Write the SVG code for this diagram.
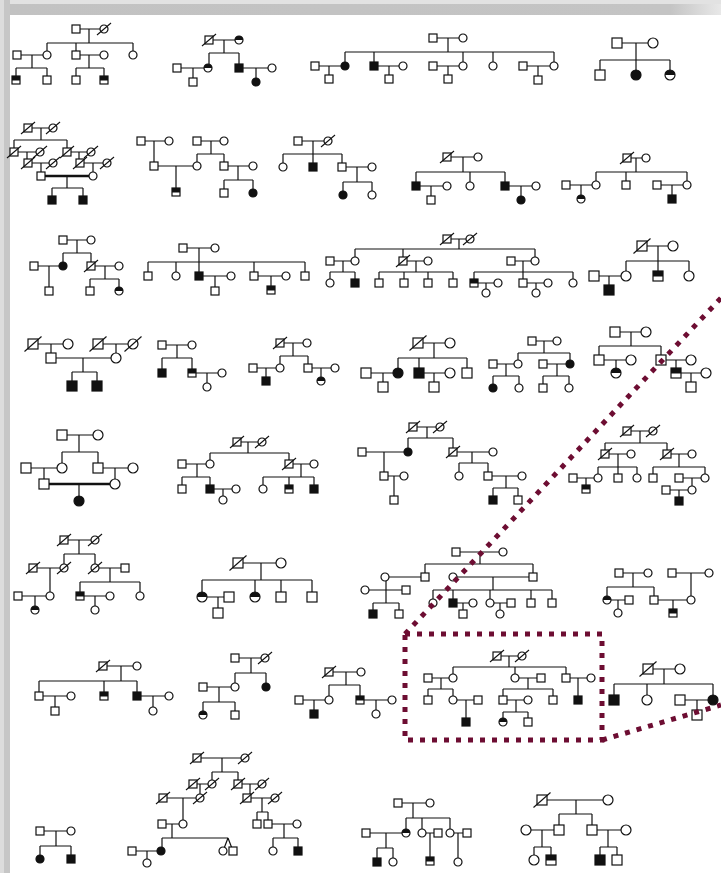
<svg xmlns="http://www.w3.org/2000/svg" width="721" height="873" viewBox="0 0 721 873">
<style>
.l{fill:none;stroke:#111;stroke-width:1.2}
.t{fill:none;stroke:#111;stroke-width:2.6}
.o{fill:#fff;stroke:#111;stroke-width:1.2}
.k{fill:#111;stroke:#111;stroke-width:1.2}
.dl{stroke:#111;stroke-width:1.1}
.dot{fill:none;stroke:#6d0d32;stroke-width:5;stroke-dasharray:5 7}
</style>
<defs>
<linearGradient id="tb" x1="0" x2="1" y1="0" y2="0"><stop offset="0" stop-color="#c2c2c2"/><stop offset="0.93" stop-color="#c4c4c4"/><stop offset="1" stop-color="#e8e8e8"/></linearGradient>
<g id="s"><rect class="o" x="-4" y="-4" width="8" height="8"/></g>
<g id="sf"><rect class="k" x="-4" y="-4" width="8" height="8"/></g>
<g id="sh"><rect class="o" x="-4" y="-4" width="8" height="8"/><rect x="-4" y="-4" width="8" height="4.5" fill="#111"/></g>
<g id="c"><circle class="o" r="4"/></g>
<g id="cf"><circle class="k" r="4"/></g>
<g id="ch"><circle class="o" r="4"/><path d="M-4,0A4,4 0 0 1 4,0Z" fill="#111"/></g>
<g id="sd"><use href="#s"/><line class="dl" x1="-7" y1="6" x2="7" y2="-6"/></g>
<g id="cd"><use href="#c"/><line class="dl" x1="-7" y1="6" x2="7" y2="-6"/></g>
<g id="S"><rect class="o" x="-5" y="-5" width="10" height="10"/></g>
<g id="SF"><rect class="k" x="-5" y="-5" width="10" height="10"/></g>
<g id="SH"><rect class="o" x="-5" y="-5" width="10" height="10"/><rect x="-5" y="-5" width="10" height="5.5" fill="#111"/></g>
<g id="C"><circle class="o" r="5"/></g>
<g id="CF"><circle class="k" r="5"/></g>
<g id="CH"><circle class="o" r="5"/><path d="M-5,0A5,5 0 0 1 5,0Z" fill="#111"/></g>
<g id="SD"><use href="#S"/><line class="dl" x1="-8.5" y1="7.5" x2="8.5" y2="-7.5"/></g>
<g id="CD"><use href="#C"/><line class="dl" x1="-8.5" y1="7.5" x2="8.5" y2="-7.5"/></g>
</defs>
<rect width="721" height="873" fill="#fff"/>
<rect x="0" y="0" width="721" height="15" fill="url(#tb)"/>
<rect x="0" y="0" width="721" height="4" fill="#e2e2e2"/>
<rect x="0" y="0" width="10" height="873" fill="#c6c6c6"/>
<rect x="0" y="0" width="4" height="873" fill="#dcdcdc"/>

<g id="connectors">
<path class="l" d="M76,29H104M89,29V43M47,43H133M47,43V55M76,43V55M133,43V55M17,55H47M32,55V68M16,68H47M16,68V80M47,68V80M76,55H104M89,55V68M76,68H104M76,68V80M104,68V80"/>
<path class="l" d="M209,40H239M224,40V53M209,53H239M209,53V68M239,53V68M177,68H208M193,68V82M239,68H272M256,68V82"/>
<path class="l" d="M433,38H463M448,38V52M345,52H554M345,52V66M374,52V66M463,52V66M493,52V66M554,52V66M315,66H345M329,66V79M374,66H403M389,66V79M433,66H463M448,66V79M523,66H554M538,66V80"/>
<path class="l" d="M617,43H653M636,43V60M600,60H670M600,60V75M636,60V75M670,60V75"/>
<path class="l" d="M28,128H53M41,128V140M14,140H67M14,140V152M67,140V152M14,152H40M27,152V163M28,163H53M41,163V176M67,152H91M79,152V163M80,163H107M93,163V176M67,176V188M52,188H83M52,188V200M83,188V200"/>
<path class="t" d="M41,176H93"/>
<path class="l" d="M141,141H169M154,141V166M197,141H224M211,141V154M197,154H224M197,154V166M224,154V166M154,166H197M176,166V192M224,166H253M238,166V180M224,180H253M224,180V193M253,180V193"/>
<path class="l" d="M298,141H328M313,141V154M283,154H342M283,154V167M313,154V167M342,154V167M342,167H372M357,167V182M343,182H372M343,182V195M372,182V195"/>
<path class="l" d="M447,157H478M463,157V172M416,172H505M416,172V186M470,172V186M505,172V186M416,186H447M431,186V200M505,186H536M521,186V200"/>
<path class="l" d="M627,158H646M636,158V172M596,172H687M596,172V185M626,172V185M687,172V185M566,185H596M581,185V199M657,185H687M672,185V199"/>
<path class="l" d="M63,240H91M77,240V253M63,253H91M63,253V266M91,253V266M34,266H63M49,266V291M91,266H119M105,266V279M90,279H119M90,279V291M119,279V291"/>
<path class="l" d="M183,248H215M199,248V262M148,262H305M148,262V276M176,262V276M199,262V276M254,262V276M305,262V276M199,276H231M215,276V291M254,276H286M271,276V290"/>
<path class="l" d="M447,239H470M459,239V249M355,249H535M355,249V261M403,249V261M535,249V261M330,261H355M343,261V272M330,272H355M330,272V283M355,272V283M403,261H428M416,261V272M379,272H453M379,272V283M404,272V283M428,272V283M453,272V283M511,261H535M523,261V272M474,272H573M474,272V283M523,272V283M573,272V283M474,283H498M486,283V293M523,283H548M536,283V293"/>
<path class="l" d="M642,246H673M658,246V261M626,261H689M626,261V276M658,261V276M689,261V276M594,276H626M609,276V290"/>
<path class="l" d="M33,344H68M51,344V358M98,344H133M116,344V358M51,358H116M83,358V372M72,372H97M72,372V386M97,372V386"/>
<path class="l" d="M162,345H192M177,345V358M162,358H192M162,358V373M192,358V373M192,373H222M207,373V387"/>
<path class="l" d="M280,343H307M293,343V356M280,356H308M280,356V368M308,356V368M253,368H280M266,368V381M308,368H335M321,368V381"/>
<path class="l" d="M418,343H450M434,343V358M398,358H467M398,358V373M419,358V373M467,358V373M366,373H398M383,373V387M419,373H450M434,373V387"/>
<path class="l" d="M532,341H557M544,341V353M518,353H570M518,353V364M570,353V364M493,364H518M506,364V376M493,376H519M493,376V388M519,376V388M543,364H570M557,364V376M543,376H569M543,376V388M569,376V388"/>
<path class="l" d="M615,332H646M631,332V346M599,346H661M599,346V360M661,346V360M599,360H631M616,360V373M661,360H691M676,360V373M676,373H706M691,373V387"/>
<path class="l" d="M62,435H98M79,435V452M62,452H98M62,452V468M98,452V468M26,468H62M44,468V484M98,468H133M115,468V484M79,484V501"/>
<path class="t" d="M44,484H115"/>
<path class="l" d="M237,442H262M248,442V453M210,453H289M210,453V464M289,453V464M182,464H210M197,464V477M182,477H210M182,477V489M210,477V489M210,489H236M223,489V500M289,464H314M301,464V477M263,477H314M263,477V489M289,477V489M314,477V489"/>
<path class="l" d="M413,427H440M427,427V438M408,438H453M408,438V452M453,438V452M362,452H408M384,452V476M384,476H404M394,476V500M453,452H493M472,452V463M459,463H488M459,463V476M488,463V476M488,476H522M506,476V488M493,488H518M493,488V500M518,488V500"/>
<path class="l" d="M627,431H653M640,431V443M605,443H667M605,443V454M667,443V454M605,454H631M618,454V467M598,467H637M598,467V478M618,467V478M637,467V478M573,478H598M586,478V489M667,454H692M679,454V467M653,467H705M653,467V478M705,467V478M679,478H705M692,478V490M666,490H692M679,490V501"/>
<path class="l" d="M64,540H95M79,540V554M64,554H95M64,554V568M95,554V568M33,568H64M50,568V596M95,568H125M110,568V582M80,582H140M80,582V596M140,582V596M80,596H110M95,596V610M18,596H50M35,596V610"/>
<path class="l" d="M238,563H281M261,563V580M202,580H312M202,580V597M255,580V597M281,580V597M312,580V597M202,597H229M218,597V613"/>
<path class="l" d="M456,552H503M480,552V564M425,564H533M425,564V577M533,564V577M385,577H425M386,577V603M365,590H406M373,603H399M373,603V614M399,603V614M453,577H533M493,577V590M433,590H552M433,590V603M453,590V603M490,590V603M531,590V603M552,590V603M453,603H473M463,603V614M490,603H511M500,603V614"/>
<path class="l" d="M619,573H648M633,573V587M607,587H654M607,587V600M654,587V600M607,600H629M618,600V613M654,600H691M673,600V613M672,573H709M691,573V600"/>
<path class="l" d="M103,666H137M121,666V681M39,681H137M39,681V696M104,681V696M137,681V696M39,696H71M55,696V711M137,696H169M153,696V711"/>
<path class="l" d="M235,658H265M251,658V673M235,673H266M235,673V687M266,673V687M203,687H235M219,687V702M203,702H235M203,702V715M235,702V715"/>
<path class="l" d="M329,672H361M346,672V685M329,685H360M329,685V700M360,685V700M299,700H329M314,700V714M360,700H392M376,700V714"/>
<path class="l" d="M497,656H522M509,656V667M453,667H566M453,667V678M515,667V678M566,667V678M428,678H453M441,678V689M428,689H453M428,689V700M453,689V700M453,700H478M466,700V722M515,678H541M528,678V689M503,689H553M503,689V700M553,689V700M503,700H528M516,700V712M503,712H528M503,712V722M528,712V722M566,678H591M578,678V700"/>
<path class="l" d="M648,669H680M664,669V684M614,684H713M614,684V700M647,684V700M713,684V700M680,700H713M697,700V715"/>
<path class="l" d="M40,831H71M56,831V846M40,846H71M40,846V859M71,846V859"/>
<path class="l" d="M197,758H245M222,758V772M212,772H238M212,772V784M238,772V784M193,784H212M200,784V798M163,798H200M183,798V824M162,824H183M172,824V838M162,838H228M162,838V851M228,838L223,851M228,838L233,851M132,851H161M147,851V863M238,784H262M250,784V798M247,798H275M262,798V812M257,812H268M257,812V824M268,812V824M268,824H297M284,824V838M273,838H298M273,838V851M298,838V851"/>
<path class="l" d="M398,803H430M413,803V818M406,818H450M406,818V833M422,818V833M450,818V833M366,833H406M386,833V848M377,848H393M377,848V862M393,848V862M422,833H438M430,833V861M450,833H467M458,833V862"/>
<path class="l" d="M542,800H608M576,800V814M559,814H592M559,814V830M592,814V830M526,830H559M542,830V847M534,847H551M534,847V860M551,847V860M592,830H626M608,830V847M600,847H617M600,847V860M617,847V860"/>
</g>

<g id="ped-A"><use href="#s" x="76" y="29"/><use href="#cd" x="104" y="29"/><use href="#c" x="47" y="55"/><use href="#s" x="17" y="55"/><use href="#s" x="76" y="55"/><use href="#c" x="104" y="55"/><use href="#c" x="133" y="55"/><use href="#sh" x="16" y="80"/><use href="#s" x="47" y="80"/><use href="#s" x="76" y="80"/><use href="#sh" x="104" y="80"/></g>
<g id="ped-B"><use href="#sd" x="209" y="40"/><use href="#ch" x="239" y="40"/><use href="#ch" x="208" y="68"/><use href="#sf" x="239" y="68"/><use href="#s" x="177" y="68"/><use href="#s" x="193" y="82"/><use href="#c" x="272" y="68"/><use href="#cf" x="256" y="82"/></g>
<g id="ped-C"><use href="#s" x="433" y="38"/><use href="#c" x="463" y="38"/><use href="#cf" x="345" y="66"/><use href="#s" x="315" y="66"/><use href="#s" x="329" y="79"/><use href="#sf" x="374" y="66"/><use href="#c" x="403" y="66"/><use href="#s" x="389" y="79"/><use href="#s" x="433" y="66"/><use href="#c" x="463" y="66"/><use href="#s" x="448" y="79"/><use href="#c" x="493" y="66"/><use href="#s" x="523" y="66"/><use href="#c" x="554" y="66"/><use href="#s" x="538" y="80"/></g>
<g id="ped-D"><use href="#S" x="617" y="43"/><use href="#C" x="653" y="43"/><use href="#S" x="600" y="75"/><use href="#CF" x="636" y="75"/><use href="#CH" x="670" y="75"/></g>
<g id="ped-E"><use href="#sd" x="28" y="128"/><use href="#cd" x="53" y="128"/><use href="#sd" x="14" y="152"/><use href="#cd" x="40" y="152"/><use href="#sd" x="67" y="152"/><use href="#cd" x="91" y="152"/><use href="#sd" x="28" y="163"/><use href="#cd" x="53" y="163"/><use href="#sd" x="80" y="163"/><use href="#cd" x="107" y="163"/><use href="#s" x="41" y="176"/><use href="#c" x="93" y="176"/><use href="#sf" x="52" y="200"/><use href="#sf" x="83" y="200"/></g>
<g id="ped-F"><use href="#s" x="141" y="141"/><use href="#c" x="169" y="141"/><use href="#s" x="197" y="141"/><use href="#c" x="224" y="141"/><use href="#s" x="154" y="166"/><use href="#c" x="197" y="166"/><use href="#s" x="224" y="166"/><use href="#c" x="253" y="166"/><use href="#sh" x="176" y="192"/><use href="#s" x="224" y="193"/><use href="#cf" x="253" y="193"/></g>
<g id="ped-G"><use href="#s" x="298" y="141"/><use href="#cd" x="328" y="141"/><use href="#c" x="283" y="167"/><use href="#sf" x="313" y="167"/><use href="#s" x="342" y="167"/><use href="#c" x="372" y="167"/><use href="#cf" x="343" y="195"/><use href="#c" x="372" y="195"/></g>
<g id="ped-H"><use href="#sd" x="447" y="157"/><use href="#c" x="478" y="157"/><use href="#sf" x="416" y="186"/><use href="#c" x="447" y="186"/><use href="#s" x="431" y="200"/><use href="#c" x="470" y="186"/><use href="#sf" x="505" y="186"/><use href="#c" x="536" y="186"/><use href="#cf" x="521" y="200"/></g>
<g id="ped-I"><use href="#sd" x="627" y="158"/><use href="#c" x="646" y="158"/><use href="#c" x="596" y="185"/><use href="#s" x="566" y="185"/><use href="#ch" x="581" y="199"/><use href="#s" x="626" y="185"/><use href="#c" x="687" y="185"/><use href="#s" x="657" y="185"/><use href="#sf" x="672" y="199"/></g>
<g id="ped-J"><use href="#s" x="63" y="240"/><use href="#c" x="91" y="240"/><use href="#cf" x="63" y="266"/><use href="#s" x="34" y="266"/><use href="#sd" x="91" y="266"/><use href="#c" x="119" y="266"/><use href="#s" x="49" y="291"/><use href="#s" x="90" y="291"/><use href="#ch" x="119" y="291"/></g>
<g id="ped-K"><use href="#s" x="183" y="248"/><use href="#c" x="215" y="248"/><use href="#s" x="148" y="276"/><use href="#c" x="176" y="276"/><use href="#sf" x="199" y="276"/><use href="#c" x="231" y="276"/><use href="#s" x="215" y="291"/><use href="#s" x="254" y="276"/><use href="#c" x="286" y="276"/><use href="#sh" x="271" y="290"/><use href="#s" x="305" y="276"/></g>
<g id="ped-L"><use href="#sd" x="447" y="239"/><use href="#cd" x="470" y="239"/><use href="#c" x="355" y="261"/><use href="#s" x="330" y="261"/><use href="#c" x="330" y="283"/><use href="#sf" x="355" y="283"/><use href="#sd" x="403" y="261"/><use href="#c" x="428" y="261"/><use href="#s" x="379" y="283"/><use href="#s" x="404" y="283"/><use href="#s" x="428" y="283"/><use href="#s" x="453" y="283"/><use href="#s" x="511" y="261"/><use href="#c" x="535" y="261"/><use href="#sh" x="474" y="283"/><use href="#c" x="498" y="283"/><use href="#c" x="486" y="293"/><use href="#s" x="523" y="283"/><use href="#c" x="548" y="283"/><use href="#c" x="536" y="293"/><use href="#c" x="573" y="283"/></g>
<g id="ped-M"><use href="#SD" x="642" y="246"/><use href="#C" x="673" y="246"/><use href="#C" x="626" y="276"/><use href="#S" x="594" y="276"/><use href="#SF" x="609" y="290"/><use href="#SH" x="658" y="276"/><use href="#C" x="689" y="276"/></g>
<g id="ped-N"><use href="#SD" x="33" y="344"/><use href="#C" x="68" y="344"/><use href="#SD" x="98" y="344"/><use href="#CD" x="133" y="344"/><use href="#S" x="51" y="358"/><use href="#C" x="116" y="358"/><use href="#SF" x="72" y="386"/><use href="#SF" x="97" y="386"/></g>
<g id="ped-O"><use href="#s" x="162" y="345"/><use href="#c" x="192" y="345"/><use href="#sf" x="162" y="373"/><use href="#sh" x="192" y="373"/><use href="#c" x="222" y="373"/><use href="#c" x="207" y="387"/></g>
<g id="ped-P"><use href="#sd" x="280" y="343"/><use href="#c" x="307" y="343"/><use href="#c" x="280" y="368"/><use href="#s" x="253" y="368"/><use href="#sf" x="266" y="381"/><use href="#s" x="308" y="368"/><use href="#c" x="335" y="368"/><use href="#ch" x="321" y="381"/></g>
<g id="ped-Q"><use href="#SD" x="418" y="343"/><use href="#C" x="450" y="343"/><use href="#CF" x="398" y="373"/><use href="#S" x="366" y="373"/><use href="#S" x="383" y="387"/><use href="#SF" x="419" y="373"/><use href="#C" x="450" y="373"/><use href="#S" x="434" y="387"/><use href="#S" x="467" y="373"/></g>
<g id="ped-R"><use href="#s" x="532" y="341"/><use href="#c" x="557" y="341"/><use href="#c" x="518" y="364"/><use href="#s" x="493" y="364"/><use href="#cf" x="493" y="388"/><use href="#c" x="519" y="388"/><use href="#cf" x="570" y="364"/><use href="#s" x="543" y="364"/><use href="#s" x="543" y="388"/><use href="#c" x="569" y="388"/></g>
<g id="ped-S"><use href="#S" x="615" y="332"/><use href="#C" x="646" y="332"/><use href="#S" x="599" y="360"/><use href="#C" x="631" y="360"/><use href="#CH" x="616" y="373"/><use href="#S" x="661" y="360"/><use href="#C" x="691" y="360"/><use href="#SH" x="676" y="373"/><use href="#C" x="706" y="373"/><use href="#S" x="691" y="387"/></g>
<g id="ped-T"><use href="#S" x="62" y="435"/><use href="#C" x="98" y="435"/><use href="#C" x="62" y="468"/><use href="#S" x="26" y="468"/><use href="#S" x="98" y="468"/><use href="#C" x="133" y="468"/><use href="#S" x="44" y="484"/><use href="#C" x="115" y="484"/><use href="#CF" x="79" y="501"/></g>
<g id="ped-U"><use href="#sd" x="237" y="442"/><use href="#cd" x="262" y="442"/><use href="#c" x="210" y="464"/><use href="#s" x="182" y="464"/><use href="#s" x="182" y="489"/><use href="#sf" x="210" y="489"/><use href="#c" x="236" y="489"/><use href="#c" x="223" y="500"/><use href="#sd" x="289" y="464"/><use href="#c" x="314" y="464"/><use href="#c" x="263" y="489"/><use href="#sh" x="289" y="489"/><use href="#sf" x="314" y="489"/></g>
<g id="ped-V"><use href="#sd" x="413" y="427"/><use href="#cd" x="440" y="427"/><use href="#cf" x="408" y="452"/><use href="#s" x="362" y="452"/><use href="#s" x="384" y="476"/><use href="#c" x="404" y="476"/><use href="#s" x="394" y="500"/><use href="#sd" x="453" y="452"/><use href="#c" x="493" y="452"/><use href="#c" x="459" y="476"/><use href="#s" x="488" y="476"/><use href="#c" x="522" y="476"/><use href="#sf" x="493" y="500"/><use href="#s" x="518" y="500"/></g>
<g id="ped-W"><use href="#sd" x="627" y="431"/><use href="#cd" x="653" y="431"/><use href="#sd" x="605" y="454"/><use href="#c" x="631" y="454"/><use href="#c" x="598" y="478"/><use href="#s" x="573" y="478"/><use href="#sh" x="586" y="489"/><use href="#s" x="618" y="478"/><use href="#c" x="637" y="478"/><use href="#sd" x="667" y="454"/><use href="#c" x="692" y="454"/><use href="#s" x="653" y="478"/><use href="#s" x="679" y="478"/><use href="#c" x="705" y="478"/><use href="#c" x="692" y="490"/><use href="#s" x="666" y="490"/><use href="#sf" x="679" y="501"/></g>
<g id="ped-X"><use href="#sd" x="64" y="540"/><use href="#cd" x="95" y="540"/><use href="#cd" x="64" y="568"/><use href="#sd" x="33" y="568"/><use href="#cd" x="95" y="568"/><use href="#s" x="125" y="568"/><use href="#sh" x="80" y="596"/><use href="#c" x="110" y="596"/><use href="#c" x="95" y="610"/><use href="#c" x="140" y="596"/><use href="#c" x="50" y="596"/><use href="#s" x="18" y="596"/><use href="#ch" x="35" y="610"/></g>
<g id="ped-Y"><use href="#SD" x="238" y="563"/><use href="#C" x="281" y="563"/><use href="#CH" x="202" y="597"/><use href="#S" x="229" y="597"/><use href="#S" x="218" y="613"/><use href="#CH" x="255" y="597"/><use href="#S" x="281" y="597"/><use href="#S" x="312" y="597"/></g>
<g id="ped-Z"><use href="#s" x="456" y="552"/><use href="#c" x="503" y="552"/><use href="#s" x="425" y="577"/><use href="#c" x="385" y="577"/><use href="#c" x="365" y="590"/><use href="#s" x="406" y="590"/><use href="#sf" x="373" y="614"/><use href="#s" x="399" y="614"/><use href="#c" x="453" y="577"/><use href="#s" x="533" y="577"/><use href="#c" x="433" y="603"/><use href="#sf" x="453" y="603"/><use href="#c" x="473" y="603"/><use href="#s" x="463" y="614"/><use href="#c" x="490" y="603"/><use href="#s" x="511" y="603"/><use href="#c" x="500" y="614"/><use href="#s" x="531" y="603"/><use href="#s" x="552" y="603"/></g>
<g id="ped-AA"><use href="#s" x="619" y="573"/><use href="#c" x="648" y="573"/><use href="#ch" x="607" y="600"/><use href="#s" x="629" y="600"/><use href="#c" x="618" y="613"/><use href="#s" x="654" y="600"/><use href="#c" x="691" y="600"/><use href="#sh" x="673" y="613"/><use href="#s" x="672" y="573"/><use href="#c" x="709" y="573"/></g>
<g id="ped-AB"><use href="#sd" x="103" y="666"/><use href="#c" x="137" y="666"/><use href="#s" x="39" y="696"/><use href="#c" x="71" y="696"/><use href="#s" x="55" y="711"/><use href="#sh" x="104" y="696"/><use href="#sf" x="137" y="696"/><use href="#c" x="169" y="696"/><use href="#c" x="153" y="711"/></g>
<g id="ped-AC"><use href="#s" x="235" y="658"/><use href="#cd" x="265" y="658"/><use href="#c" x="235" y="687"/><use href="#s" x="203" y="687"/><use href="#cf" x="266" y="687"/><use href="#ch" x="203" y="715"/><use href="#s" x="235" y="715"/></g>
<g id="ped-AD"><use href="#sd" x="329" y="672"/><use href="#c" x="361" y="672"/><use href="#c" x="329" y="700"/><use href="#s" x="299" y="700"/><use href="#sf" x="314" y="714"/><use href="#sh" x="360" y="700"/><use href="#c" x="392" y="700"/><use href="#c" x="376" y="714"/></g>
<g id="ped-AE"><use href="#sd" x="497" y="656"/><use href="#cd" x="522" y="656"/><use href="#c" x="453" y="678"/><use href="#s" x="428" y="678"/><use href="#s" x="428" y="700"/><use href="#c" x="453" y="700"/><use href="#s" x="478" y="700"/><use href="#sf" x="466" y="722"/><use href="#c" x="515" y="678"/><use href="#s" x="541" y="678"/><use href="#s" x="503" y="700"/><use href="#c" x="528" y="700"/><use href="#s" x="553" y="700"/><use href="#ch" x="503" y="722"/><use href="#s" x="528" y="722"/><use href="#s" x="566" y="678"/><use href="#c" x="591" y="678"/><use href="#sf" x="578" y="700"/></g>
<g id="ped-AF"><use href="#SD" x="648" y="669"/><use href="#C" x="680" y="669"/><use href="#SF" x="614" y="700"/><use href="#C" x="647" y="700"/><use href="#S" x="680" y="700"/><use href="#CF" x="713" y="700"/><use href="#S" x="697" y="715"/></g>
<g id="ped-AG"><use href="#s" x="40" y="831"/><use href="#c" x="71" y="831"/><use href="#cf" x="40" y="859"/><use href="#sf" x="71" y="859"/></g>
<g id="ped-AH"><use href="#sd" x="197" y="758"/><use href="#cd" x="245" y="758"/><use href="#sd" x="193" y="784"/><use href="#cd" x="212" y="784"/><use href="#sd" x="238" y="784"/><use href="#cd" x="262" y="784"/><use href="#sd" x="163" y="798"/><use href="#cd" x="200" y="798"/><use href="#sd" x="247" y="798"/><use href="#cd" x="275" y="798"/><use href="#s" x="162" y="824"/><use href="#c" x="183" y="824"/><use href="#cf" x="161" y="851"/><use href="#s" x="132" y="851"/><use href="#c" x="147" y="863"/><use href="#c" x="223" y="851"/><use href="#s" x="233" y="851"/><use href="#s" x="257" y="824"/><use href="#s" x="268" y="824"/><use href="#c" x="297" y="824"/><use href="#c" x="273" y="851"/><use href="#sf" x="298" y="851"/></g>
<g id="ped-AI"><use href="#s" x="398" y="803"/><use href="#c" x="430" y="803"/><use href="#ch" x="406" y="833"/><use href="#s" x="366" y="833"/><use href="#sf" x="377" y="862"/><use href="#c" x="393" y="862"/><use href="#c" x="422" y="833"/><use href="#s" x="438" y="833"/><use href="#sh" x="430" y="861"/><use href="#c" x="450" y="833"/><use href="#s" x="467" y="833"/><use href="#c" x="458" y="862"/></g>
<g id="ped-AJ"><use href="#SD" x="542" y="800"/><use href="#C" x="608" y="800"/><use href="#S" x="559" y="830"/><use href="#C" x="526" y="830"/><use href="#C" x="534" y="860"/><use href="#SH" x="551" y="860"/><use href="#S" x="592" y="830"/><use href="#C" x="626" y="830"/><use href="#SF" x="600" y="860"/><use href="#S" x="617" y="860"/></g>

<g id="zoom-callout">
<rect class="dot" x="405" y="634" width="197" height="106"/>
<path class="dot" d="M405,634L721,298"/>
<path class="dot" d="M602,740L721,705"/>
</g>
</svg>
